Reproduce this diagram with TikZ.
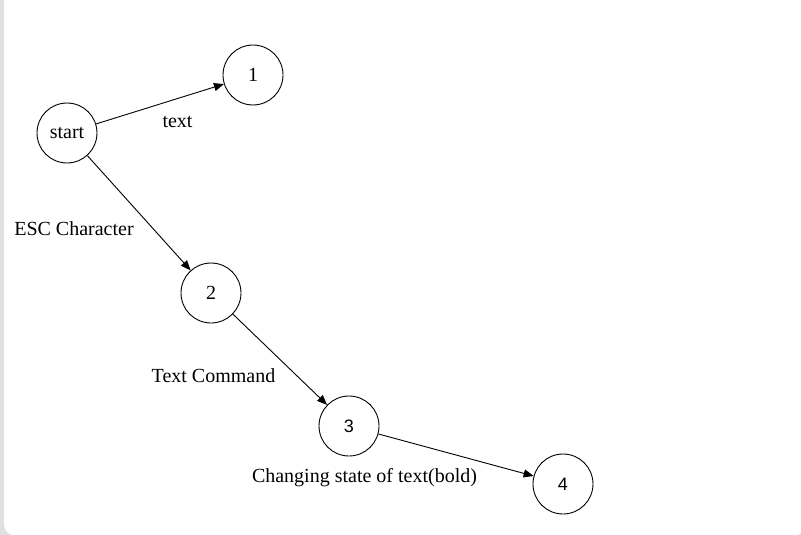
\documentclass[tikz,border=0pt]{standalone}
\usepackage{fontspec}
\setmainfont{Liberation Serif}
\newfontfamily\sansf{Liberation Sans}
\usetikzlibrary{arrows.meta}
\definecolor{bggray}{RGB}{224,224,224}
\begin{document}
\begin{tikzpicture}[x=1pt,y=-1pt,
  state/.style={draw=black,line width=0.9pt,circle,minimum size=60pt,inner sep=0pt,font=\fontsize{20}{24}\selectfont},
  lbl/.style={anchor=base,inner sep=0pt,font=\fontsize{20}{24}\selectfont},
  edge/.style={draw=black,line width=0.9pt,-{Triangle[length=10pt,width=8pt]}}]
\useasboundingbox (0,0) rectangle (801,535);
\fill[bggray] (0,0) rectangle (801,535);
\fill[white,rounded corners=12pt] (4,-20) rectangle (805,536);
\node[state] (s) at (67,133) {start};
\node[state] (n1) at (253,75) {1};
\node[state] (n2) at (211,293) {2};
\node[state] (n3) at (349,426) {\sansf\fontsize{18}{22}\selectfont 3};
\node[state] (n4) at (563,484) {\sansf\fontsize{18}{22}\selectfont 4};
\draw[edge] (s) -- (n1);
\draw[edge] (s) -- (n2);
\draw[edge] (n2) -- (n3);
\draw[edge] (n3) -- (n4);
\node[lbl] (l1) at (177.5,127) {text};
\node[lbl] (l2) at (74,235) {ESC Character};
\node[lbl] (l3) at (213.5,382) {Text Command};
\node[lbl] (l4) at (364.5,482) {Changing state of text(bold)};
\end{tikzpicture}
\end{document}
